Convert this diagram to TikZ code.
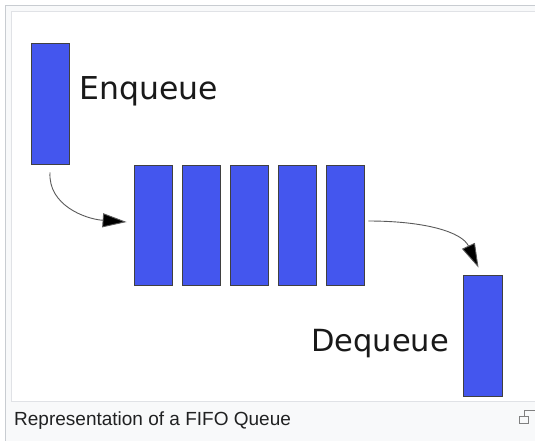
\documentclass[tikz,border=0pt]{standalone}
\usepackage{fontspec}
\usetikzlibrary{arrows.meta}
\newfontfamily\labelfont{DejaVu Sans}
\newfontfamily\capfont{Liberation Sans}
\definecolor{qblue}{RGB}{68,86,238}
\definecolor{frameline}{RGB}{200,204,209}
\definecolor{framefill}{RGB}{248,249,250}
\definecolor{innerline}{RGB}{224,226,230}
\definecolor{captext}{RGB}{32,33,34}
\definecolor{arrline}{RGB}{90,90,90}
\tikzset{
  slot/.style={draw=black!75, line width=0.8pt, fill=qblue, inner sep=0pt,
               minimum width=38pt, minimum height=121pt},
  word/.style={inner sep=0pt, anchor=base west, text=black!90},
  arr/.style={draw=arrline, line width=0.9pt,
              -{Triangle[length=24pt,width=14pt,fill=black]}},
}
\begin{document}
\begin{tikzpicture}[x=1pt,y=-1pt]
\useasboundingbox (0,0) rectangle (535,440);
% thumbnail frame and image area
\draw[frameline, fill=framefill, line width=1pt] (5.5,5.5) rectangle (560,460);
\draw[innerline, fill=white, line width=1pt] (11.5,11.5) rectangle (560,401);
% incoming element
\node[slot] (enq) at (50,103.5) {};
\node[word, font=\labelfont\fontsize{31.5}{31.5}\selectfont] (enqlabel) at (79,99) {Enqueue};
% queue contents
\foreach \i/\x in {1/153,2/201,3/249,4/297,5/345}
  \node[slot, minimum height=120pt] (q\i) at (\x,225) {};
% outgoing element
\node[slot, minimum width=39pt] (deq) at (482.5,335.5) {};
\node[word, font=\labelfont\fontsize{30.5}{30.5}\selectfont] (deqlabel) at (311,351) {Dequeue};
% arrows
\draw[arr] ([yshift=-8pt]enq.south) .. controls (48,205) and (85,219) .. ([xshift=-7pt,yshift=3pt]q1.west);
\draw[arr] ([xshift=4pt,yshift=4pt]q5.east) .. controls (425,221) and (462,232) .. ([xshift=-4pt,yshift=7pt]deq.north);
% caption
\node[inner sep=0pt, anchor=base west, text=captext, font=\capfont\fontsize{19}{19}\selectfont] (cap) at (14,425) {Representation of a FIFO Queue};
% enlarge icon
\coordinate (icon) at (519,416);
\draw[gray, line width=1pt] (icon) rectangle ++(9,7);
\draw[gray, line width=1pt] ([xshift=5pt]icon) -- ++(0,-6) -- ++(12,0);
\end{tikzpicture}
\end{document}
